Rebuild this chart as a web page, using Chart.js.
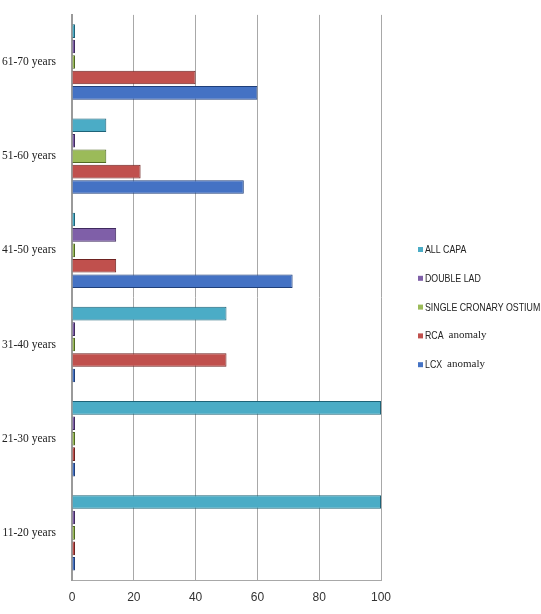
<!DOCTYPE html>
<html>
<head>
<meta charset="utf-8">
<script src="https://cdn.jsdelivr.net/npm/chart.js@4/dist/chart.umd.min.js"></script>
<style>
  html, body { margin: 0; padding: 0; background: #ffffff; }
  #wrap { width: 541px; height: 614px; position: relative; }
</style>
</head>
<body>
<div id="wrap"><canvas id="chart" width="541" height="614"></canvas></div>
<script>
// Age groups (bottom to top on the chart)
const ageGroups = ['11-20 years', '21-30 years', '31-40 years', '41-50 years', '51-60 years', '61-70 years'];

// Percentage of cases per anomaly type in each age group
const lcxAnomaly    = [0, 0, 0, 71.4, 55.6, 60];
const rcaAnomaly    = [0, 0, 50, 14.3, 22.2, 40];
const singleOstium  = [0, 0, 0, 0, 11.1, 0];
const doubleLad     = [0, 0, 0, 14.3, 0, 0];
const allCapa       = [100, 100, 50, 0, 11.1, 0];

// Series names, split into the main label and a trailing word
const seriesNames   = ['LCX', 'RCA', 'SINGLE CRONARY OSTIUM', 'DOUBLE LAD', 'ALL CAPA'];
const seriesSuffix  = ['anomaly', 'anomaly', '', '', ''];

// Axis ticks
const xTicks = [0, 20, 40, 60, 80, 100];

const fills   = ['#4472C4', '#C0504D', '#9BBB59', '#7F5FA8', '#4BACC6'];
const borders = ['#1F3F7A', '#6E2220', '#4F6A22', '#3F2A5E', '#1E6378'];
const seriesValues = [lcxAnomaly, rcaAnomaly, singleOstium, doubleLad, allCapa];

// Bars inside a group are stacked top-down in dataset order,
// so the series are handed over last-first (LCX ends up at the bottom).
const datasets = seriesValues.map((vals, i) => ({
  label: seriesNames[i] + (seriesSuffix[i] ? ' ' + seriesSuffix[i] : ''),
  data: vals,
  backgroundColor: fills[i],
  borderColor: borders[i],
  borderWidth: 1,
  minBarLength: 3,
  categoryPercentage: 0.82,
  barPercentage: 0.88
})).reverse();

// Legend drawn at the right, last series first
const sideLegend = {
  id: 'sideLegend',
  afterDraw(chart) {
    const ctx = chart.ctx;
    const x0 = 418, yStart = 250, step = 28.8;
    ctx.save();
    ctx.textBaseline = 'middle';
    ctx.textAlign = 'left';
    for (let k = 0; k < seriesNames.length; k++) {
      const i = seriesNames.length - 1 - k;
      const y = yStart + k * step;
      ctx.fillStyle = fills[i];
      ctx.fillRect(x0, y - 3, 5, 5);
      ctx.fillStyle = '#222222';
      ctx.font = '11px "Liberation Sans", Arial, sans-serif';
      const main = seriesNames[i];
      const w = ctx.measureText(main).width;
      const squeeze = 0.8;
      ctx.save();
      ctx.translate(x0 + 7, y);
      ctx.scale(squeeze, 1);
      ctx.fillText(main, 0, 0);
      ctx.restore();
      if (seriesSuffix[i]) {
        ctx.font = '11px "Liberation Serif", "Times New Roman", serif';
        ctx.fillText(seriesSuffix[i], x0 + 7 + w * squeeze + 5, y - 1);
      }
    }
    ctx.restore();
  }
};

new Chart(document.getElementById('chart'), {
  type: 'bar',
  data: { labels: ageGroups, datasets },
  plugins: [sideLegend],
  options: {
    indexAxis: 'y',
    responsive: false,
    animation: false,
    layout: { padding: { top: 13, right: 160, left: 0, bottom: 0 } },
    plugins: {
      legend: { display: false },
      tooltip: { enabled: false }
    },
    scales: {
      x: {
        min: 0,
        max: 100,
        afterBuildTicks(scale) { scale.ticks = xTicks.map(v => ({ value: v })); },
        afterFit(scale) { scale.height = 34; },
        grid: { color: '#a8a8a8', lineWidth: 1, drawTicks: false },
        border: { display: true, color: '#a8a8a8' },
        ticks: {
          padding: 10,
          color: '#333333',
          font: { family: '"Liberation Sans", Arial, sans-serif', size: 12 }
        }
      },
      y: {
        reverse: true,
        afterFit(scale) { scale.width = 72; },
        grid: { display: false },
        border: { display: true, color: '#9a9a9a', width: 2 },
        ticks: {
          padding: 8,
          color: '#222222',
          font: { family: '"Liberation Serif", "Times New Roman", serif', size: 11.5 }
        }
      }
    }
  }
});
</script>
</body>
</html>
